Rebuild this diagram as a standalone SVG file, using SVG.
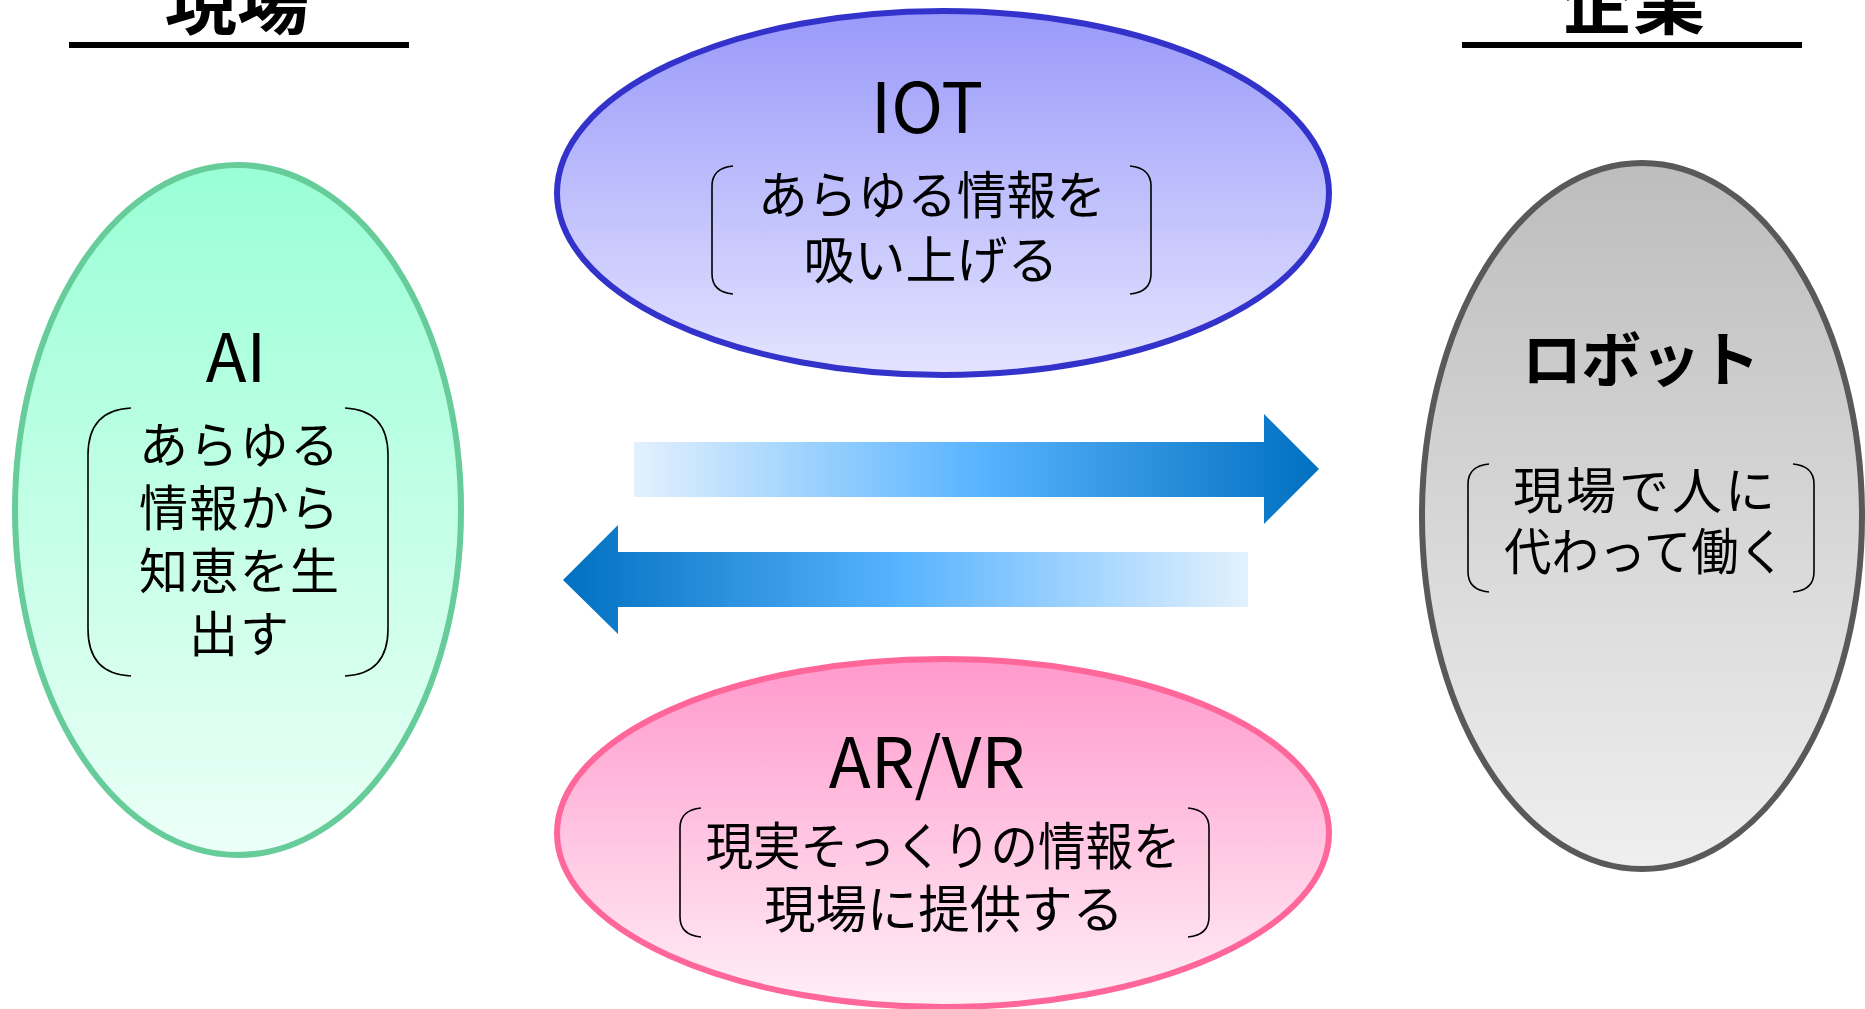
<svg xmlns="http://www.w3.org/2000/svg" width="1865" height="1009" viewBox="0 0 1865 1009">
<style>
text{font-family:"Noto Sans CJK JP","Noto Sans CJK SC",sans-serif;fill:#000;text-anchor:middle}
.hd{font-size:72px;font-weight:700}
.ttl{font-size:70px}
.body{font-size:51px}
.br{fill:none;stroke:#000;stroke-width:1.6}
.rule{stroke:#000;stroke-width:6}
</style>
<defs>
<linearGradient id="gIot" x1="0" y1="0" x2="0" y2="1"><stop offset="0" stop-color="#9999FA"/><stop offset="1" stop-color="#E4E4FF"/></linearGradient>
<linearGradient id="gAi" x1="0" y1="0" x2="0" y2="1"><stop offset="0" stop-color="#99FFD5"/><stop offset="1" stop-color="#ECFFF8"/></linearGradient>
<linearGradient id="gAr" x1="0" y1="0" x2="0" y2="1"><stop offset="0" stop-color="#FF99CC"/><stop offset="1" stop-color="#FFEFF7"/></linearGradient>
<linearGradient id="gRb" x1="0" y1="0" x2="0" y2="1"><stop offset="0" stop-color="#BDBDBD"/><stop offset="1" stop-color="#EFEFEF"/></linearGradient>
<linearGradient id="gR" gradientUnits="userSpaceOnUse" x1="634" y1="0" x2="1319" y2="0"><stop offset="0" stop-color="#E3F1FD"/><stop offset="0.5" stop-color="#5AB4FF"/><stop offset="1" stop-color="#0070C0"/></linearGradient>
<linearGradient id="gL" gradientUnits="userSpaceOnUse" x1="563" y1="0" x2="1248" y2="0"><stop offset="0" stop-color="#0070C0"/><stop offset="0.5" stop-color="#5AB4FF"/><stop offset="1" stop-color="#E3F1FD"/></linearGradient>
</defs>
<rect width="1865" height="1009" fill="#fff"/>

<g id="header-genba">
<text class="hd" x="237" y="28">現場</text>
<line class="rule" x1="69" y1="45" x2="409" y2="45"/>
</g>
<g id="header-kigyo">
<text class="hd" x="1633" y="28">企業</text>
<line class="rule" x1="1462" y1="45" x2="1802" y2="45"/>
</g>

<g id="connectors">
<polygon points="634,442 1264,442 1264,414 1319,469 1264,524 1264,497 634,497" fill="url(#gR)"/>
<polygon points="1248,552 618,552 618,525 563,580 618,634 618,607 1248,607" fill="url(#gL)"/>
</g>

<g id="node-iot">
<ellipse cx="943" cy="193" rx="386" ry="182" fill="url(#gIot)" stroke="#3333CC" stroke-width="6"/>
<text class="ttl" x="927" y="133">IOT</text>
<path class="br" d="M733,166 Q712,168 712,186 L712,274 Q712,292 733,294"/>
<path class="br" d="M1130,166 Q1151,168 1151,186 L1151,274 Q1151,292 1130,294"/>
<text class="body" x="932" y="214" textLength="348" lengthAdjust="spacingAndGlyphs">あらゆる情報を</text>
<text class="body" x="931" y="279" textLength="255" lengthAdjust="spacingAndGlyphs">吸い上げる</text>
</g>

<g id="node-ai">
<ellipse cx="238" cy="510" rx="223" ry="345" fill="url(#gAi)" stroke="#66CC99" stroke-width="6"/>
<text class="ttl" x="236" y="382" style="font-size:67px">AI</text>
<path class="br" d="M131,408 Q88,410 88,455 L88,629 Q88,674 131,676"/>
<path class="br" d="M345,408 Q388,410 388,455 L388,629 Q388,674 345,676"/>
<text class="body" x="239" y="463" style="font-size:49px" textLength="200">あらゆる</text>
<text class="body" x="239" y="526" style="font-size:49px" textLength="200">情報から</text>
<text class="body" x="239" y="589" style="font-size:49px" textLength="200">知恵を生</text>
<text class="body" x="239" y="652" style="font-size:49px" textLength="100">出す</text>
</g>

<g id="node-robot">
<ellipse cx="1642" cy="516" rx="220" ry="353" fill="url(#gRb)" stroke="#595959" stroke-width="6"/>
<text class="ttl" x="1641" y="382" style="font-size:60px;font-weight:700" textLength="238">ロボット</text>
<path class="br" d="M1489,464 Q1468,466 1468,484 L1468,572 Q1468,590 1489,592"/>
<path class="br" d="M1793,464 Q1814,466 1814,484 L1814,572 Q1814,590 1793,592"/>
<text class="body" x="1644" y="509" style="font-size:50px" textLength="262">現場で人に</text>
<text class="body" x="1645" y="570" style="font-size:50px" textLength="282" lengthAdjust="spacingAndGlyphs">代わって働く</text>
</g>

<g id="node-arvr">
<ellipse cx="943" cy="833" rx="386" ry="174" fill="url(#gAr)" stroke="#FF6699" stroke-width="6"/>
<text class="ttl" x="927" y="788" style="font-size:69px">AR/VR</text>
<path class="br" d="M701,808 Q680,810 680,828 L680,917 Q680,935 701,937"/>
<path class="br" d="M1188,808 Q1209,810 1209,828 L1209,917 Q1209,935 1188,937"/>
<text class="body" x="943" y="865" textLength="475" lengthAdjust="spacingAndGlyphs">現実そっくりの情報を</text>
<text class="body" x="944" y="928" textLength="360" lengthAdjust="spacingAndGlyphs">現場に提供する</text>
</g>
</svg>
